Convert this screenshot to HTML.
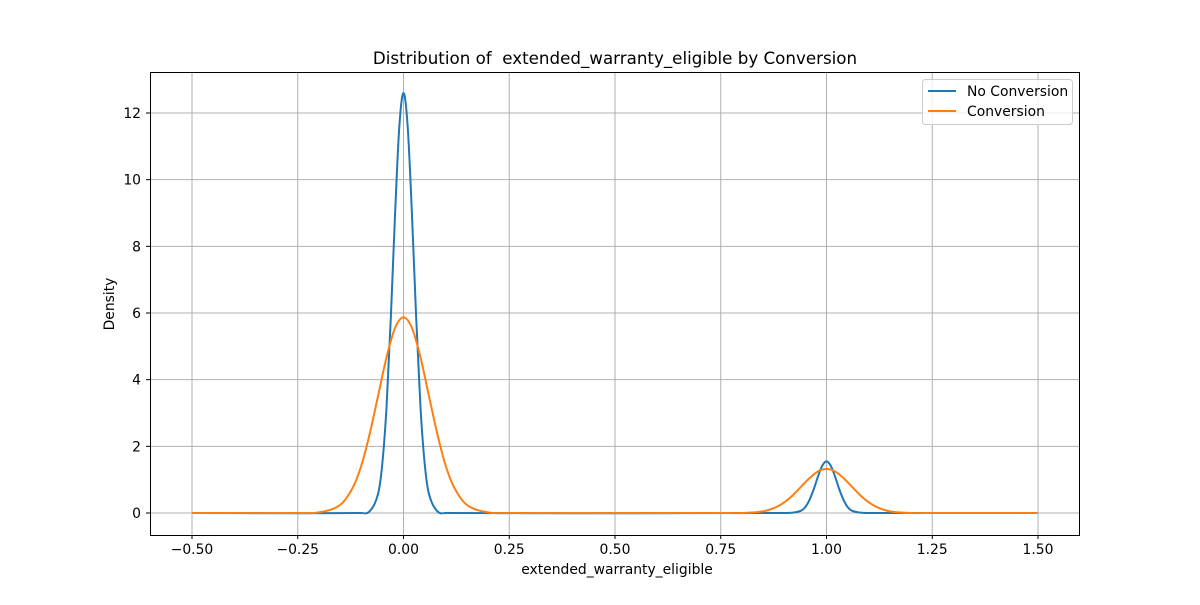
<!DOCTYPE html>
<html><head><meta charset="utf-8"><style>
body{margin:0;background:#fff}
svg text{font-family:"DejaVu Sans","Liberation Sans",sans-serif}
</style></head><body>
<svg id="chart" width="1200" height="600" viewBox="0 0 1200 600" xmlns="http://www.w3.org/2000/svg">
<rect width="1200" height="600" fill="#fff"/>
<g id="grid"></g>
<g id="series"></g>
<rect x="150.5" y="72.5" width="929" height="463" fill="none" stroke="#000" stroke-width="1"/>
<g id="ticks"></g>
<text x="615" y="64" font-size="16.7" text-anchor="middle">Distribution of &#160;extended_warranty_eligible by Conversion</text>
<text x="617" y="574" font-size="13.9" text-anchor="middle">extended_warranty_eligible</text>
<text transform="translate(114,304) rotate(-90)" font-size="13.9" text-anchor="middle">Density</text>
<g>
<rect x="922.5" y="79.5" width="150" height="45" rx="3" fill="#fff" fill-opacity="0.8" stroke="#ccc"/>
<line x1="928" y1="91" x2="956" y2="91" stroke="#1f77b4" stroke-width="2"/>
<text x="967" y="96" font-size="13.9">No Conversion</text>
<line x1="928" y1="111" x2="956" y2="111" stroke="#ff7f0e" stroke-width="2"/>
<text x="967" y="116" font-size="13.9">Conversion</text>
</g>
</svg>
<script>
const xTicks=[-0.5,-0.25,0,0.25,0.5,0.75,1,1.25,1.5];
const xTickLabels=["−0.50","−0.25","0.00","0.25","0.50","0.75","1.00","1.25","1.50"];
const yTicks=[0,2,4,6,8,10,12];
const blueX=[-0.5,-0.1,-0.08,-0.06,-0.05,-0.04,-0.03,-0.02,-0.01,0,0.01,0.02,0.03,0.04,0.05,0.06,0.08,0.1,0.9,0.92,0.94,0.95,0.96,0.97,0.98,0.99,1,1.01,1.02,1.03,1.04,1.05,1.06,1.08,1.1,1.5];
const blueY=[0,0,0.05,0.58,1.49,3.21,5.85,8.95,11.57,12.6,11.57,8.95,5.85,3.21,1.49,0.58,0.05,0,0,0.01,0.07,0.18,0.40,0.72,1.10,1.42,1.55,1.42,1.10,0.72,0.40,0.18,0.07,0.01,0,0];
const orangeX=[-0.5,-0.25,-0.2,-0.15,-0.12,-0.1,-0.08,-0.06,-0.04,-0.02,0,0.02,0.04,0.06,0.08,0.1,0.12,0.15,0.2,0.25,0.75,0.8,0.85,0.88,0.9,0.92,0.94,0.96,0.98,1,1.02,1.04,1.06,1.08,1.1,1.12,1.15,1.2,1.25,1.5];
const orangeY=[0,0,0.02,0.24,0.76,1.41,2.37,3.52,4.68,5.55,5.87,5.55,4.68,3.52,2.37,1.41,0.76,0.24,0.02,0,0,0,0.05,0.17,0.32,0.53,0.79,1.05,1.25,1.32,1.25,1.05,0.79,0.53,0.32,0.17,0.05,0,0,0];
const sx=v=>403.5+v*423, sy=v=>513-v*33.333;
const NS="http://www.w3.org/2000/svg";
const grid=document.getElementById('grid'),ticks=document.getElementById('ticks'),ser=document.getElementById('series');
function mk(tag,attrs,parent){const e=document.createElementNS(NS,tag);for(const k in attrs)e.setAttribute(k,attrs[k]);parent.appendChild(e);return e;}
xTicks.forEach((t,i)=>{const x=sx(t);
 const g=mk('line',{x1:x,x2:x,y1:72,y2:535,stroke:'#b0b0b0','stroke-width':1},grid);
 
 
 mk('line',{x1:x,x2:x,y1:535,y2:539,stroke:'#000'},ticks);
 const l=mk('text',{x:x,y:554,'font-size':13.9,'text-anchor':'middle'},ticks);l.textContent=xTickLabels[i];
 
 });
yTicks.forEach(t=>{const y=sy(t);
 const g=mk('line',{x1:150,x2:1080,y1:y,y2:y,stroke:'#b0b0b0','stroke-width':1},grid);
 
 
 mk('line',{x1:146,x2:150,y1:y,y2:y,stroke:'#000'},ticks);
 const l=mk('text',{x:141,y:y+5,'font-size':13.9,'text-anchor':'end'},ticks);l.textContent=t;
 
 });
function curve(xs,ys,color,name){
 const P=xs.map((x,i)=>[sx(x),sy(ys[i])]);
 let d='M'+P[0][0]+','+P[0][1];
 for(let i=0;i<P.length-1;i++){
  const p0=P[Math.max(i-1,0)],p1=P[i],p2=P[i+1],p3=P[Math.min(i+2,P.length-1)];
  const dx=p2[0]-p1[0];
  const m1=(p2[1]-p0[1])/((p2[0]-p0[0])||1), m2=(p3[1]-p1[1])/((p3[0]-p1[0])||1);
  d+=' C'+(p1[0]+dx/3)+','+(p1[1]+m1*dx/3)+' '+(p2[0]-dx/3)+','+(p2[1]-m2*dx/3)+' '+p2[0]+','+p2[1];
 }
 const p=mk('path',{d:d,fill:'none',stroke:color,'stroke-width':2,'stroke-linejoin':'round'},ser);
 
 }
curve(blueX,blueY,'#1f77b4','no-conversion-line');
curve(orangeX,orangeY,'#ff7f0e','conversion-line');
</script>
</body></html>
